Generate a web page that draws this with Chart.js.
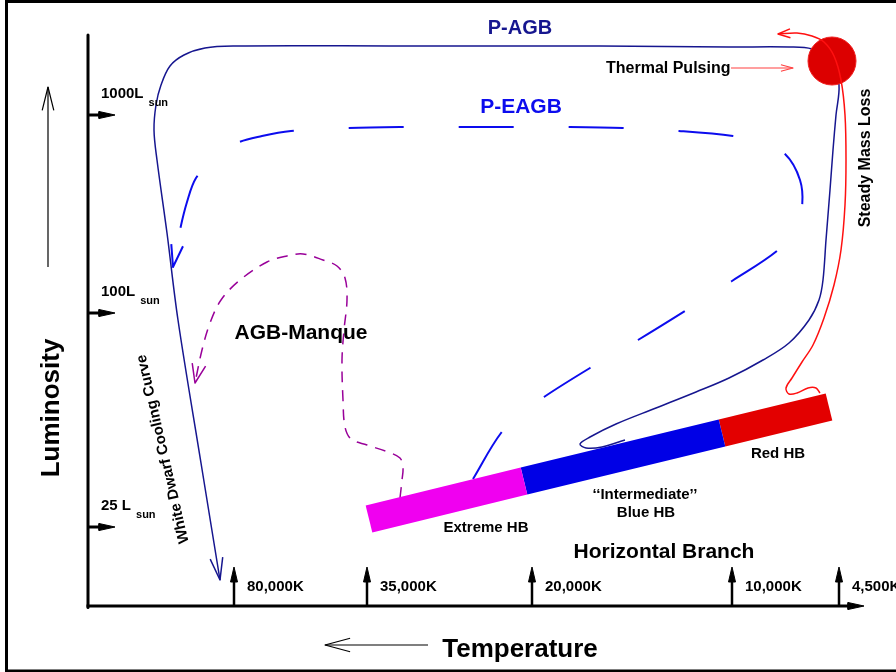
<!DOCTYPE html>
<html lang="en">
<head>
<meta charset="UTF-8">
<title>Post-HB evolution schematic</title>
<style>
  body { margin: 0; background: #fff; }
  #wrap { width: 896px; height: 672px; }
</style>
<script src="https://cdn.jsdelivr.net/npm/chart.js"></script>
</head>
<body>
<div id="wrap"><canvas id="hrChart" width="896" height="672"></canvas></div>
<script>
// schematic plane: x runs 0..896 left to right, y runs 0..672 top to bottom
const lumLevels = [115, 313, 527];
const lumLabels = ['1000L', '100L', '25 L'];
const tempTicks = [234, 367, 532, 732, 839];
const tempLabels = ['80,000K', '35,000K', '20,000K', '10,000K', '4,500K'];

// horizontal branch centre line, split at the colour changes
const hbStops = [[369, 519], [524, 481], [722, 433], [829, 407]];

// post-AGB track (from the HB up to the AGB tip, then across and down the cooling curve)
const pagbTrack = [[625, 440], [602, 447], [586, 448], [580, 444], [590, 437], [616, 424], [656, 408],
  [696, 392], [729, 378], [763, 360], [789, 343], [809, 320], [819, 300], [823, 280], [826, 240],
  [830, 190], [833, 150], [836, 115], [839, 85], [832, 60], [812, 49], [789, 47], [729, 47],
  [600, 46], [400, 46], [233, 46], [205, 48], [184, 55], [170, 66], [161, 85], [156, 105],
  [154, 130], [157, 160], [167, 233], [178, 320], [201, 463], [220, 580]];

// post-early-AGB track
const peagbTrack = [[473, 479], [501, 433], [522, 414], [544, 397], [590, 368], [638, 340], [685, 311],
  [732, 281], [777, 251], [795, 230], [802, 207], [800, 180], [785, 154], [760, 142], [733, 136],
  [679, 131], [623, 128], [568, 127], [512, 127], [457, 127], [402, 127], [347, 128], [291, 131],
  [262, 136], [237, 143], [214, 158], [196, 178], [187, 202], [180, 230], [173, 267]];

// AGB-manque track
const manqueTrack = [[400, 498], [402, 480], [403, 467], [400, 458], [388, 452], [367, 445], [351, 439],
  [345, 427], [343, 400], [342, 360], [344, 330], [347, 300], [345, 278], [337, 266], [323, 260],
  [303, 254], [287, 256], [267, 262], [240, 280], [221, 300], [210, 323], [202, 350], [195, 383]];

// steady mass loss from the red HB up to the thermal pulsing tip
const massLossTrack = [[778, 34], [797, 33], [812, 36], [824, 42], [834, 56], [841, 80], [845, 115],
  [846, 160], [845, 205], [841, 250], [834, 285], [824, 318], [813, 345], [802, 362], [792, 378],
  [786, 388], [789, 394], [797, 393], [808, 388], [816, 388], [820, 393]];

const pulseStar = [[832, 61]];
const pulseArrow = [[731, 68], [793, 68]];
const lumArrow = [[48, 267], [48, 87]];
const tempArrow = [[428, 645], [325, 645]];

const axisX = 88, axisY = 606;
const navy = '#16168f', blue = '#0c0cee', purple = '#990099', red = '#ff1010';
const hbColors = ['#f000f0', '#0000e6', '#e30000'];

const pts = a => a.map(([x, y]) => ({ x, y }));

function line(data, color, width, extra) {
  return Object.assign({
    data: pts(data), borderColor: color, borderWidth: width, pointRadius: 0,
    fill: false, tension: 0, borderJoinStyle: 'round', order: 5
  }, extra || {});
}

// open arrow head: two wings back from the tip
function arrowHead(from, tip, len, deg) {
  const a = Math.atan2(from[1] - tip[1], from[0] - tip[0]);
  const r = deg * Math.PI / 180;
  return [
    [tip[0] + len * Math.cos(a + r), tip[1] + len * Math.sin(a + r)],
    tip,
    [tip[0] + len * Math.cos(a - r), tip[1] + len * Math.sin(a - r)]
  ];
}

// solid arrow head, pointing along (dx, dy)
function solidHead(tip, dx, dy, len, half) {
  const bx = tip[0] - dx * len, by = tip[1] - dy * len;
  const p1 = [bx - dy * half, by + dx * half], p2 = [bx + dy * half, by - dx * half];
  return [p1, tip, p2, p1];
}

function solid(data) {
  return line(data, '#000', 1, { fill: 'shape', backgroundColor: '#000', borderJoinStyle: 'miter' });
}

const last = (a, i) => a[a.length - 1 - i];

const datasets = [];

// axes
datasets.push(line([[axisX, 35], [axisX, axisY + 1.5]], '#000', 3));
datasets.push(line([[axisX - 1.5, axisY], [852, axisY]], '#000', 3));
datasets.push(solid(solidHead([864, axisY], 1, 0, 16, 3.5)));
lumLevels.forEach(v => {
  datasets.push(line([[axisX, v], [104, v]], '#000', 3));
  datasets.push(solid(solidHead([115, v], 1, 0, 16, 3.5)));
});
tempTicks.forEach(v => {
  datasets.push(line([[v, axisY], [v, 578]], '#000', 2.5));
  datasets.push(solid(solidHead([v, 567], 0, -1, 15, 3.5)));
});

// direction arrows beside the axis titles
datasets.push(line(lumArrow, '#000', 1.2));
datasets.push(line(arrowHead(lumArrow[0], lumArrow[1], 24, 14), '#000', 1.2));
datasets.push(line(tempArrow, '#000', 1.2));
datasets.push(line(arrowHead(tempArrow[0], tempArrow[1], 26, 15), '#000', 1.2));

// evolutionary tracks
datasets.push(line(pagbTrack, navy, 1.5, { tension: 0.35 }));
datasets.push(line(arrowHead(last(pagbTrack, 1), last(pagbTrack, 0), 23, 16), navy, 1.5));
datasets.push(line(peagbTrack, blue, 2, { tension: 0.35, borderDash: [55, 55] }));
datasets.push(line(arrowHead(last(peagbTrack, 1), last(peagbTrack, 0), 23, 15), blue, 2));
datasets.push(line(manqueTrack, purple, 1.5, { tension: 0.35, borderDash: [11, 8] }));
datasets.push(line(arrowHead(last(manqueTrack, 1), last(manqueTrack, 0), 20, 20), purple, 1.5));

// horizontal branch bar
for (let i = 0; i < hbStops.length - 1; i++) {
  datasets.push(line([hbStops[i], hbStops[i + 1]], hbColors[i], 28, { borderCapStyle: 'butt', order: 2 }));
}

// thermal pulsing star, mass loss track on top of it
datasets.push(line(pulseStar, 'transparent', 0, {
  pointRadius: 24, pointBackgroundColor: '#dc0000', pointBorderColor: '#f02020', pointBorderWidth: 1,
  showLine: false, order: 1
}));
datasets.push(line(massLossTrack, red, 1.5, { tension: 0.35, order: 0 }));
datasets.push(line(arrowHead(massLossTrack[1], massLossTrack[0], 13, 20), red, 1.5, { order: 0 }));
datasets.push(line(pulseArrow, '#ff4040', 1.2, { order: 0 }));
datasets.push(line(arrowHead(pulseArrow[0], pulseArrow[1], 12.5, 15), '#ff4040', 1.2, { order: 0 }));

const notes = [
  { t: 'P-AGB', x: 520, y: 28, size: 20, color: navy },
  { t: 'P-EAGB', x: 521, y: 107, size: 21, color: blue },
  { t: 'Thermal Pulsing', x: 606, y: 69, size: 16, align: 'left' },
  { t: 'Steady Mass Loss', x: 866, y: 158, size: 16, rot: -90 },
  { t: 'AGB-Manque', x: 301, y: 333, size: 21 },
  { t: 'White Dwarf Cooling Curve', x: 163, y: 449, size: 15, rot: -103 },
  { t: 'Luminosity', x: 52, y: 408, size: 26, rot: -90 },
  { t: 'Temperature', x: 520, y: 650, size: 26 },
  { t: 'Extreme HB', x: 486, y: 528, size: 15 },
  { t: '\u2018\u2018Intermediate\u2019\u2019', x: 645, y: 495, size: 15 },
  { t: 'Blue HB', x: 646, y: 513, size: 15 },
  { t: 'Red HB', x: 778, y: 454, size: 15 },
  { t: 'Horizontal Branch', x: 664, y: 552, size: 21 }
];

const FONT = '"Liberation Sans", Arial, sans-serif';

const framePlugin = {
  id: 'frame',
  beforeDraw(chart) {
    const { ctx, width, height } = chart;
    ctx.save();
    ctx.fillStyle = '#fff';
    ctx.fillRect(0, 0, width, height);
    ctx.fillStyle = '#000';
    ctx.fillRect(5, 0, 3, height);
    ctx.fillRect(5, 0, width - 5, 3);
    ctx.fillRect(5, height - 2.5, width - 5, 2.5);
    ctx.restore();
  }
};

const labelPlugin = {
  id: 'labels',
  afterDatasetsDraw(chart) {
    const { ctx, scales: { x, y } } = chart;
    const put = (text, vx, vy, size, o = {}) => {
      ctx.save();
      ctx.translate(x.getPixelForValue(vx), y.getPixelForValue(vy));
      if (o.rot) ctx.rotate(o.rot * Math.PI / 180);
      ctx.font = 'bold ' + size + 'px ' + FONT;
      ctx.fillStyle = o.color || '#000';
      ctx.textAlign = o.align || 'center';
      ctx.textBaseline = 'middle';
      ctx.fillText(text, 0, 0);
      const w = ctx.measureText(text).width;
      ctx.restore();
      return w;
    };
    notes.forEach(n => put(n.t, n.x, n.y, n.size, n));
    lumLabels.forEach((t, i) => {
      const w = put(t, 101, lumLevels[i] - 21, 15, { align: 'left' });
      put('sun', 101 + w + 5, lumLevels[i] - 12, 11, { align: 'left' });
    });
    tempLabels.forEach((t, i) => put(t, tempTicks[i] + 13, 587, 15, { align: 'left' }));
  }
};

new Chart(document.getElementById('hrChart'), {
  type: 'line',
  data: { datasets: datasets },
  options: {
    responsive: false,
    animation: false,
    events: [],
    layout: { padding: 0, autoPadding: false },
    scales: {
      x: { type: 'linear', min: 0, max: 896, display: false },
      y: { type: 'linear', min: 0, max: 672, reverse: true, display: false }
    },
    plugins: { legend: { display: false }, tooltip: { enabled: false } }
  },
  plugins: [framePlugin, labelPlugin]
});
</script>
</body>
</html>
